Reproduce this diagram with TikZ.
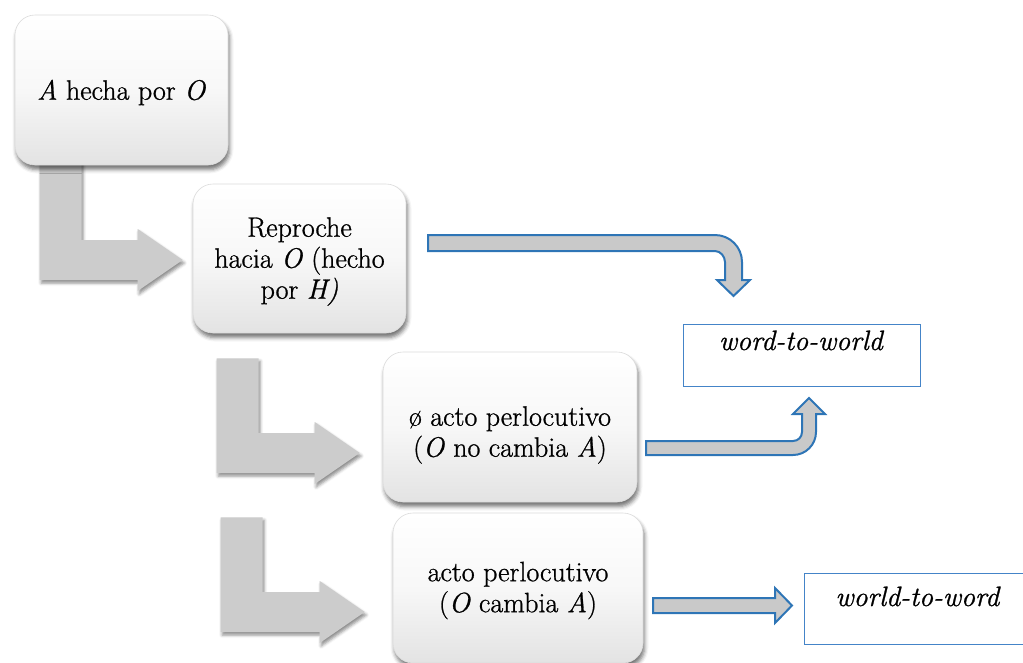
\documentclass[tikz,border=0pt]{standalone}
\usepackage{fontspec}
% Latin Modern, thickened slightly to read well at display size
\setmainfont{Latin Modern Roman}[UprightFeatures={FakeBold=0.9},
  ItalicFeatures={FakeBold=0.9}]
\usetikzlibrary{calc,shadows.blur}

\definecolor{flowgray}{RGB}{204,204,204}
\definecolor{arrowfill}{RGB}{201,201,201}
\definecolor{edgeblue}{RGB}{46,117,182}
\definecolor{frameblue}{RGB}{68,132,200}

\pgfdeclarelayer{background}
\pgfsetlayers{background,main}

% multi-line centred text, lowered a little inside its box
\newcommand\lowered[2]{\raisebox{-#1}[\height][\depth]{\begin{tabular}{@{}c@{}}#2\end{tabular}}}

\tikzset{
  bigfont/.style={font=\fontsize{28}{31}\selectfont},
  stage/.style={bigfont, rounded corners=20pt, draw=black!14, line width=0.6pt,
    top color=white, bottom color=black!11, middle color=white!97!black,
    blur shadow={shadow xshift=1.5pt, shadow yshift=-4.5pt,
      shadow blur radius=4pt, shadow opacity=55},
    inner sep=0pt, align=center},
  outcome/.style={bigfont, draw=frameblue, line width=1pt, fill=white,
    inner xsep=0pt, text height=20pt},
  lflow/.style={fill=flowgray,
    blur shadow={shadow xshift=1.5pt, shadow yshift=-3pt,
      shadow blur radius=3pt, shadow opacity=45}},
  turnarrow/.style={fill=arrowfill, draw=edgeblue, line width=2pt, line join=miter},
}

% L-shaped block arrow: #1 = top centre of the vertical bar, #2 = tip
\newcommand\lflowarrow[2]{%
  \fill[lflow] let \p1=#1, \p2=#2 in
    (\x1-21pt,\y1) -- (\x1-21pt,\y2-20pt) -- (\x2-45pt,\y2-20pt)
    -- (\x2-45pt,\y2-31pt) -- (\x2,\y2) -- (\x2-45pt,\y2+31pt)
    -- (\x2-45pt,\y2+20pt) -- (\x1+21pt,\y2+20pt) -- (\x1+21pt,\y1) -- cycle;}

\begin{document}
\begin{tikzpicture}[x=1pt,y=-1pt]
\useasboundingbox (0,0) rectangle (1023,662);

% rounded stage boxes
\node[stage, minimum width=213pt, minimum height=150pt] (b1) at (121.5,90)
  {\lowered{3.5pt}{\textit{A} hecha por \textit{O}}};
\node[stage, minimum width=213pt, minimum height=149pt] (b2) at (299.5,258.5)
  {\lowered{3pt}{Reproche\\ hacia \textit{O} (hecho\\ por \textit{H)}}};
\node[stage, minimum width=254pt, minimum height=150pt] (b3) at (510,427)
  {\lowered{8pt}{ø acto perlocutivo\\ (\textit{O} no cambia \textit{A})}};
\node[stage, minimum width=250pt, minimum height=150pt] (b4) at (518,588)
  {\lowered{2.5pt}{acto perlocutivo\\ (\textit{O} cambia \textit{A})}};

% direction-of-fit boxes
\node[outcome, minimum width=237pt, inner ysep=6pt, text depth=30pt] (wtw) at (801.5,355)
  {\textit{word-to-world}};
\node[outcome, minimum width=228pt, inner ysep=13pt, text depth=25pt] (wtw2) at (918,608.5)
  {\textit{world-to-word}};

% grey L-shaped flow arrows between the stages
\begin{pgfonlayer}{background}
  \lflowarrow{($(b1.south west)+(46,-5)$)}{($(b2.west)+(-10,1.5)$)}
  \lflowarrow{($(b2.south west)+(45,25)$)}{($(b3.west)+(-23,26)$)}
  \lflowarrow{($(b3.south west)+(-141,15)$)}{($(b4.west)+(-28,24)$)}
\end{pgfonlayer}

% outlined block arrows towards the direction-of-fit boxes
% from the reproach, bending down onto word-to-world
\draw[turnarrow] (428,235) -- (715,235) .. controls (729.9,235) and (742,247.1) .. (742,262)
  -- (742,280) -- (750,280) -- (733.5,296) -- (717,280) -- (725,280) -- (725,262)
  .. controls (725,256.5) and (720.5,251) .. (715,251) -- (428,251) -- cycle;
% from the missing perlocutionary act, bending up onto word-to-world
\draw[turnarrow] (646,441) -- (793,441) .. controls (798,441) and (802,437) .. (802,432)
  -- (802,414) -- (793,414) -- (809,398) -- (825,414) -- (816,414) -- (816,432)
  .. controls (816,444.7) and (805.7,455) .. (793,455) -- (646,455) -- cycle;
% from the perlocutionary act straight to world-to-word
\draw[turnarrow] (653,598) -- (775,598) -- (775,588) -- (792,605.5) -- (775,623)
  -- (775,613) -- (653,613) -- cycle;
\end{tikzpicture}
\end{document}
